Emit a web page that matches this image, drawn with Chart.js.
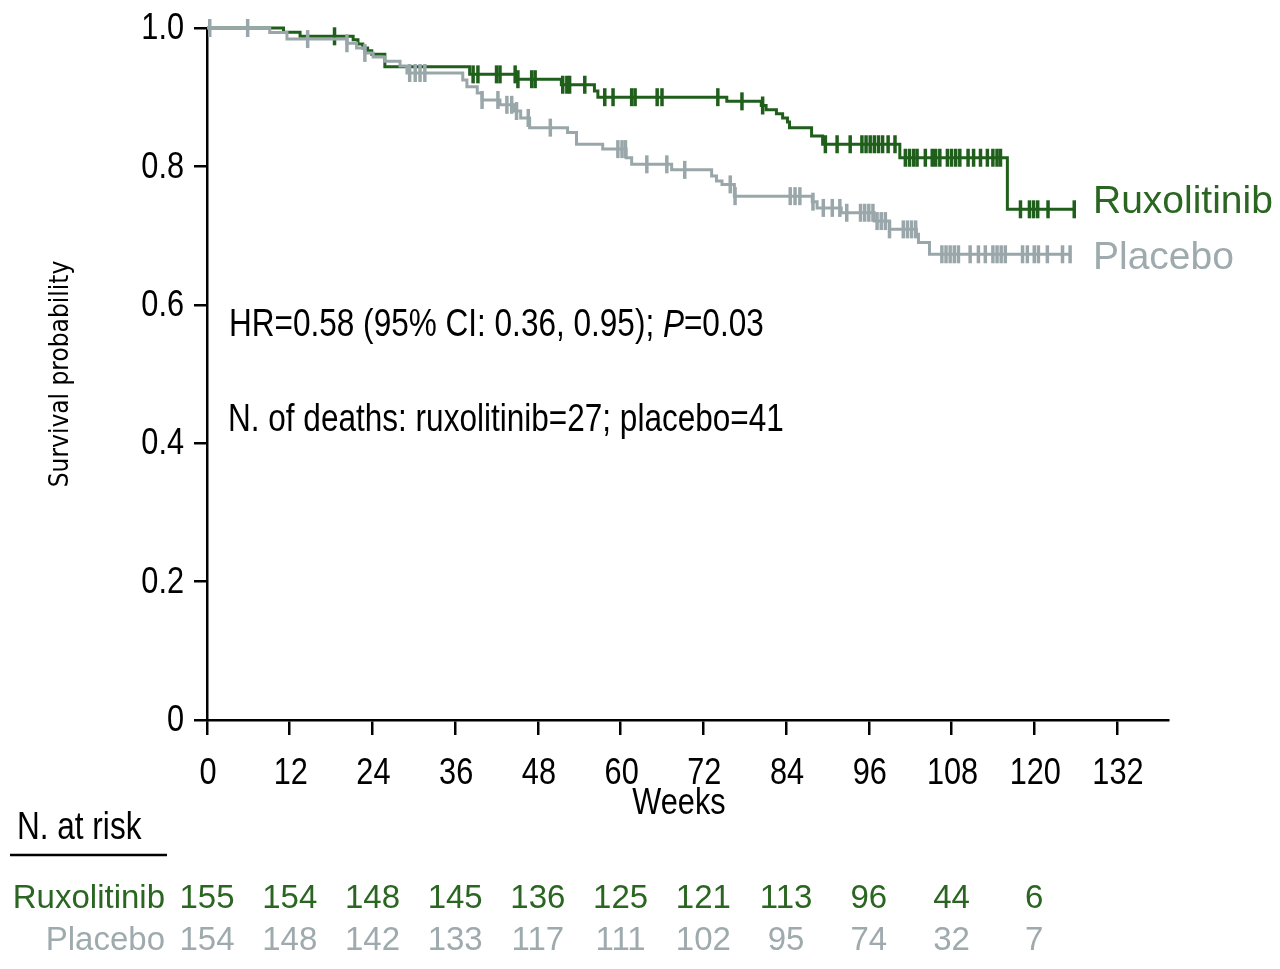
<!DOCTYPE html>
<html>
<head>
<meta charset="utf-8">
<script src="https://cdn.jsdelivr.net/npm/chart.js@4.4.1/dist/chart.umd.min.js"></script>
<style>
  html, body { margin: 0; padding: 0; background: #fff; }
  #wrap { width: 1280px; height: 969px; position: relative; }
</style>
</head>
<body>
<div id="wrap"><canvas id="kmChart"></canvas></div>
<script>
// 데이터 (weeks, survival after each drop)
var ruxTimes = [0, 11.1, 13.5, 21.2, 21.9, 22.6, 23.3, 23.9, 25.8, 38.1, 44.9, 51.4, 56.2, 56.7, 75.4, 80.4, 81.1, 82.6, 83.5, 84.2, 84.5, 87.7, 89.3, 100.5, 116.1, 125.8];
var ruxSurv  = [1.0, 0.994, 0.988, 0.983, 0.977, 0.971, 0.967, 0.962, 0.944, 0.933, 0.926, 0.918, 0.909, 0.900, 0.894, 0.888, 0.882, 0.876, 0.870, 0.864, 0.856, 0.844, 0.832, 0.8125, 0.738, 0.738];

var plaTimes = [0, 9.1, 11.6, 20.3, 21.7, 22.9, 24.1, 25.8, 28.0, 29.0, 37.1, 37.7, 39.2, 39.9, 42.5, 44.5, 45.5, 46.8, 52.3, 53.6, 57.4, 60.8, 61.6, 67.4, 73.2, 73.9, 74.7, 76.5, 87.8, 88.5, 92.0, 96.8, 99.0, 102.9, 103.2, 104.8, 125.1];
var plaSurv  = [1.0, 0.9935, 0.984, 0.978, 0.971, 0.964, 0.958, 0.952, 0.945, 0.935, 0.925, 0.915, 0.906, 0.896, 0.889, 0.880, 0.870, 0.856, 0.849, 0.832, 0.825, 0.8125, 0.803, 0.795, 0.786, 0.779, 0.774, 0.757, 0.749, 0.740, 0.733, 0.721, 0.709, 0.702, 0.690, 0.673, 0.673];

// censored times
var ruxCensor = [18.5, 38.6, 39.3, 42.0, 42.5, 44.7, 45.1, 47.1, 47.6, 51.6, 52.2, 52.6, 54.8, 57.7, 58.9, 61.6, 62.1, 65.3, 66.0, 74.1, 77.6, 80.6,
  89.7, 91.4, 93.3, 95.0, 95.6, 96.2, 96.8, 97.4, 98.0, 98.8, 99.8, 101.3, 101.9, 102.5, 103.0, 104.2, 105.2, 105.7, 106.3,
  107.4, 108.0, 108.6, 109.2, 110.4, 111.2, 112.2, 113.2, 114.0, 114.6, 115.1, 118.0, 119.3, 119.9, 120.5, 122.0, 125.8];
var plaCensor = [0.4, 5.9, 14.6, 20.3, 22.9, 29.4, 30.2, 30.9, 31.6, 39.9, 42.2, 43.5, 44.2, 44.9, 46.6, 49.8, 59.6, 60.2, 60.7, 63.8, 66.7, 69.3,
  75.9, 76.6, 84.6, 85.3, 86.0, 87.9, 89.4, 90.7, 91.8, 92.8, 94.8, 95.4, 96.0, 96.6, 97.2, 97.8, 98.4, 99.0, 101.0, 101.6, 102.2, 102.8,
  106.6, 107.2, 107.8, 108.4, 109.0, 110.7, 111.9, 112.9, 114.0, 114.6, 115.2, 115.8, 118.3, 119.0, 120.0, 120.6, 121.9, 124.1, 125.2];

// axis ticks
var weekTicks = [0, 12, 24, 36, 48, 60, 72, 84, 96, 108, 120, 132];
var survTicks = [0, 0.2, 0.4, 0.6, 0.8, 1.0];
var survLabels = ['0', '0.2', '0.4', '0.6', '0.8', '1.0'];

// number at risk
var riskWeeks = [0, 12, 24, 36, 48, 60, 72, 84, 96, 108, 120];
var ruxRisk = [155, 154, 148, 145, 136, 125, 121, 113, 96, 44, 6];
var plaRisk = [154, 148, 142, 133, 117, 111, 102, 95, 74, 32, 7];

var GREEN = '#1f5f1b';
var GREEN_TXT = '#2a6621';
var GRAY = '#9aa7aa';
var GRAY_TXT = '#9eaaad';
var NARROW = "'DejaVu Sans Condensed', sans-serif";
var NORMAL = "'Liberation Sans', Arial, sans-serif";
var SX = 0.83; // 가로 압축 (condensed look)

function toPoints(times, surv) {
    return times.map(function (t, i) { return { x: t, y: surv[i] }; });
}

// step function lookup
function survAt(times, surv, t) {
    var s = surv[0];
    for (var i = 0; i < times.length; i++) {
        if (times[i] <= t) s = surv[i];
    }
    return s;
}

function censorPoints(cens, times, surv) {
    return cens.map(function (t) { return { x: t, y: survAt(times, surv, t) }; });
}

function lineSet(data, color) {
    return {
        type: 'line', data: data, borderColor: color, borderWidth: 3,
        stepped: 'before', pointRadius: 0, fill: false, clip: false
    };
}

function censorSet(data, color) {
    return {
        type: 'scatter', data: data, borderColor: color, backgroundColor: color,
        pointStyle: 'line', rotation: 90, pointRadius: 9, borderWidth: 3.5,
        pointHoverRadius: 9, clip: false
    };
}

// condensed text: list of [text, fontStyle]
function narrowText(ctx, parts, x, y, size, align) {
    ctx.save();
    ctx.translate(x, y);
    ctx.scale(SX, 1);
    ctx.textBaseline = 'middle';
    var total = 0;
    parts.forEach(function (p) {
        ctx.font = p[1] + ' ' + size + 'px ' + NORMAL;
        total += ctx.measureText(p[0]).width;
    });
    var cx = 0;
    if (align === 'center') cx = -total / 2;
    if (align === 'right') cx = -total;
    ctx.textAlign = 'left';
    parts.forEach(function (p) {
        ctx.font = p[1] + ' ' + size + 'px ' + NORMAL;
        ctx.fillText(p[0], cx, 0);
        cx += ctx.measureText(p[0]).width;
    });
    ctx.restore();
}

// 텍스트 (눈금, 주석, 범례, at-risk 표)
var textPlugin = {
    id: 'kmText',
    afterDraw: function (chart) {
        var ctx = chart.ctx;
        var xs = chart.scales.x;
        var ys = chart.scales.y;
        ctx.save();
        ctx.fillStyle = '#000';

        // tick labels
        weekTicks.forEach(function (w) {
            narrowText(ctx, [[String(w), 'normal']], xs.getPixelForValue(w) + 1, 774, 37, 'center');
        });
        survTicks.forEach(function (v, i) {
            narrowText(ctx, [[survLabels[i], 'normal']], 184, ys.getPixelForValue(v) + 1, 37, 'right');
        });

        // annotation
        narrowText(ctx, [['HR=0.58 (95% CI: 0.36, 0.95); ', 'normal'], ['P', 'italic'], ['=0.03', 'normal']], 229, 326, 38, 'left');
        narrowText(ctx, [['N. of deaths: ruxolitinib=27; placebo=41', 'normal']], 228, 421, 38, 'left');

        // x title
        narrowText(ctx, [['Weeks', 'normal']], 679, 804, 37, 'center');

        // curve labels
        ctx.textBaseline = 'middle';
        ctx.textAlign = 'left';
        ctx.font = '39px ' + NORMAL;
        ctx.fillStyle = GREEN_TXT;
        ctx.fillText('Ruxolitinib', 1093, 202);
        ctx.fillStyle = GRAY_TXT;
        ctx.fillText('Placebo', 1093, 258);

        // at risk header
        ctx.fillStyle = '#000';
        narrowText(ctx, [['N. at risk', 'normal']], 17, 829, 38, 'left');
        ctx.strokeStyle = '#000';
        ctx.lineWidth = 2.5;
        ctx.beginPath();
        ctx.moveTo(10, 855);
        ctx.lineTo(167, 855);
        ctx.stroke();

        ctx.font = '33px ' + NORMAL;
        ctx.textAlign = 'right';
        ctx.fillStyle = GREEN_TXT;
        ctx.fillText('Ruxolitinib', 165, 899);
        ctx.fillStyle = GRAY_TXT;
        ctx.fillText('Placebo', 165, 941);

        ctx.textAlign = 'center';
        riskWeeks.forEach(function (w, i) {
            var px = xs.getPixelForValue(w);
            ctx.fillStyle = GREEN_TXT;
            ctx.fillText(String(ruxRisk[i]), px, 899);
            ctx.fillStyle = GRAY_TXT;
            ctx.fillText(String(plaRisk[i]), px, 941);
        });
        ctx.restore();
    }
};

var ctx = document.getElementById('kmChart').getContext('2d');
var chart = new Chart(ctx, {
    data: {
        datasets: [
            lineSet(toPoints(plaTimes, plaSurv), GRAY),
            censorSet(censorPoints(plaCensor, plaTimes, plaSurv), GRAY),
            lineSet(toPoints(ruxTimes, ruxSurv), GREEN),
            censorSet(censorPoints(ruxCensor, ruxTimes, ruxSurv), GREEN)
        ]
    },
    options: {
        responsive: true,
        maintainAspectRatio: false,
        animation: false,
        layout: { padding: { top: 28, right: 112, left: 0, bottom: 0 } },
        scales: {
            x: {
                type: 'linear', min: 0, max: 139.4,
                afterBuildTicks: function (scale) {
                    scale.ticks = weekTicks.map(function (v) { return { value: v }; });
                },
                afterFit: function (scale) { scale.height = 249; },
                grid: { drawOnChartArea: false, drawTicks: true, tickLength: 15, color: '#000', lineWidth: 2.5 },
                border: { display: true, color: '#000', width: 2.5 },
                ticks: { display: false }
            },
            y: {
                type: 'linear', min: 0, max: 1,
                afterBuildTicks: function (scale) {
                    scale.ticks = survTicks.map(function (v) { return { value: v }; });
                },
                afterFit: function (scale) { scale.width = 207; },
                grid: { drawOnChartArea: false, drawTicks: true, tickLength: 13, color: '#000', lineWidth: 2.5 },
                border: { display: true, color: '#000', width: 2.5 },
                ticks: { display: false },
                title: { display: true, text: 'Survival probability', color: '#000', font: { family: NARROW, size: 26 }, padding: { top: 46, bottom: 0 } }
            }
        },
        plugins: {
            legend: { display: false },
            tooltip: { enabled: false }
        }
    },
    plugins: [textPlugin]
});
</script>
</body>
</html>
